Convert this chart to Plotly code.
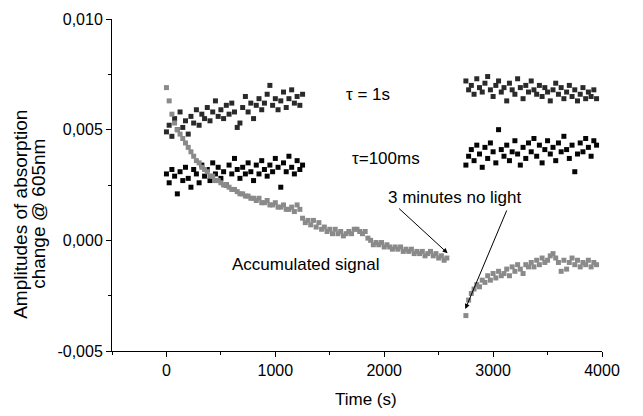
import plotly.graph_objects as go

# ---------------- data ----------------
t_tau_1 = [0, 25, 50, 75, 100, 125, 150, 175, 200, 225, 250, 275, 300, 325, 350, 375, 400, 425, 450, 475,
           500, 525, 550, 575, 600, 625, 650, 675, 700, 725, 750, 775, 800, 825, 850, 875, 900, 925, 950, 975,
           1000, 1025, 1050, 1075, 1100, 1125, 1150, 1175, 1200, 1225, 1250]

tau1s_seg1 = [0.0049, 0.0052, 0.0047, 0.0055, 0.0050, 0.0058, 0.0051, 0.0054, 0.0048, 0.0056,
              0.0053, 0.0059, 0.0052, 0.0057, 0.0055, 0.0060, 0.0054, 0.0058, 0.0063, 0.0056,
              0.0059, 0.0055, 0.0061, 0.0057, 0.0062, 0.0058, 0.0051, 0.0053, 0.0060, 0.0065,
              0.0058, 0.0062, 0.0055, 0.0061, 0.0064, 0.0059, 0.0062, 0.0066, 0.0070, 0.0061,
              0.0064, 0.0059, 0.0063, 0.0067, 0.0060, 0.0064, 0.0068, 0.0062, 0.0065, 0.0061, 0.0066]

tau100_seg1 = [0.0030, 0.0026, 0.0032, 0.0029, 0.0021, 0.0031, 0.0027, 0.0033, 0.0028, 0.0024,
               0.0032, 0.0030, 0.0026, 0.0034, 0.0029, 0.0032, 0.0027, 0.0035, 0.0030, 0.0033,
               0.0028, 0.0031, 0.0025, 0.0034, 0.0030, 0.0037, 0.0032, 0.0028, 0.0033, 0.0030,
               0.0035, 0.0031, 0.0027, 0.0034, 0.0030, 0.0036, 0.0032, 0.0029, 0.0034, 0.0031,
               0.0037, 0.0033, 0.0024, 0.0035, 0.0031, 0.0038, 0.0033, 0.0030, 0.0036, 0.0032, 0.0034]

t_acc_1 = [0, 25, 50, 75, 100, 125, 150, 175, 200, 225, 250, 275, 300, 325, 350, 375, 400, 425, 450, 475,
           500, 525, 550, 575, 600, 625, 650, 675, 700, 725, 750, 775, 800, 825, 850, 875, 900, 925, 950, 975,
           1000, 1025, 1050, 1075, 1100, 1125, 1150, 1175, 1200, 1225, 1250, 1275, 1300, 1325, 1350, 1375,
           1400, 1425, 1450, 1475, 1500, 1525, 1550, 1575, 1600, 1625, 1650, 1675, 1700, 1725, 1750, 1775,
           1800, 1825, 1850, 1875, 1900, 1925, 1950, 1975, 2000, 2025, 2050, 2075, 2100, 2125, 2150, 2175,
           2200, 2225, 2250, 2275, 2300, 2325, 2350, 2375, 2400, 2425, 2450, 2475, 2500, 2525, 2550, 2575]

acc_seg1 = [0.0069, 0.0063, 0.0057, 0.0053, 0.0050, 0.0048, 0.0046, 0.0044, 0.0042, 0.0040,
            0.0038, 0.0036, 0.0035, 0.0033, 0.0032, 0.0031, 0.0029, 0.0029, 0.0027, 0.0027,
            0.0026, 0.0025, 0.0025, 0.0024, 0.0023, 0.0023, 0.0022, 0.0021, 0.0021, 0.0020,
            0.0020, 0.0019, 0.0019, 0.0018, 0.0019, 0.0017, 0.0017, 0.0018, 0.0016, 0.0016,
            0.0017, 0.0015, 0.0015, 0.0016, 0.0014, 0.0014, 0.0015, 0.0013, 0.0016, 0.0014,
            0.0010, 0.0008, 0.0009, 0.0007, 0.0009, 0.0006, 0.0008, 0.0005, 0.0006, 0.0004,
            0.0005, 0.0003, 0.0005, 0.0003, 0.0004, 0.0002, 0.0003, 0.0004, 0.0003, 0.0005,
            0.0005, 0.0004, 0.0003, 0.0004, 0.0001, 0.0000, -0.0002, -0.0001, -0.0002, -0.0001,
            -0.0003, -0.0002, -0.0003, -0.0004, -0.0003, -0.0004, -0.0003, -0.0005, -0.0004, -0.0005,
            -0.0004, -0.0006, -0.0005, -0.0006, -0.0005, -0.0007, -0.0006, -0.0005, -0.0007, -0.0006,
            -0.0008, -0.0007, -0.0009, -0.0008]

t_seg2 = [2750, 2775, 2800, 2825, 2850, 2875, 2900, 2925, 2950, 2975, 3000, 3025, 3050, 3075, 3100, 3125,
          3150, 3175, 3200, 3225, 3250, 3275, 3300, 3325, 3350, 3375, 3400, 3425, 3450, 3475, 3500, 3525,
          3550, 3575, 3600, 3625, 3650, 3675, 3700, 3725, 3750, 3775, 3800, 3825, 3850, 3875, 3900, 3925, 3950]

tau1s_seg2 = [0.0072, 0.0068, 0.0070, 0.0066, 0.0073, 0.0069, 0.0067, 0.0071, 0.0074, 0.0068,
              0.0065, 0.0070, 0.0072, 0.0067, 0.0069, 0.0063, 0.0071, 0.0068, 0.0066, 0.0073,
              0.0069, 0.0064, 0.0070, 0.0067, 0.0072, 0.0068, 0.0066, 0.0070, 0.0065, 0.0069,
              0.0067, 0.0063, 0.0068, 0.0071, 0.0066, 0.0069, 0.0064, 0.0067, 0.0070, 0.0065,
              0.0068, 0.0063, 0.0066, 0.0069, 0.0064, 0.0067, 0.0065, 0.0068, 0.0064]

tau100_seg2 = [0.0034, 0.0038, 0.0041, 0.0036, 0.0043, 0.0039, 0.0033, 0.0042, 0.0037, 0.0044,
               0.0040, 0.0035, 0.0050, 0.0041, 0.0038, 0.0043, 0.0036, 0.0040, 0.0045, 0.0039,
               0.0034, 0.0042, 0.0037, 0.0044, 0.0040, 0.0046, 0.0038, 0.0043, 0.0035, 0.0041,
               0.0045, 0.0039, 0.0042, 0.0036, 0.0044, 0.0040, 0.0047, 0.0041, 0.0037, 0.0043,
               0.0031, 0.0039, 0.0044, 0.0040, 0.0046, 0.0042, 0.0038, 0.0045, 0.0043]

acc_seg2 = [-0.0034, -0.0027, -0.0024, -0.0022, -0.0020, -0.0021, -0.0018, -0.0019, -0.0016, -0.0018,
            -0.0015, -0.0017, -0.0014, -0.0016, -0.0015, -0.0013, -0.0016, -0.0012, -0.0014, -0.0011,
            -0.0013, -0.0015, -0.0011, -0.0012, -0.0010, -0.0012, -0.0009, -0.0011, -0.0008, -0.0010,
            -0.0009, -0.0007, -0.0006, -0.0008, -0.0010, -0.0014, -0.0009, -0.0013, -0.0010, -0.0008,
            -0.0011, -0.0009, -0.0012, -0.0010, -0.0011, -0.0009, -0.0012, -0.0010, -0.0011]

x_tickvals = [0, 1000, 2000, 3000, 4000]
x_ticktext = ["0", "1000", "2000", "3000", "4000"]
y_tickvals = [-0.005, 0.0, 0.005, 0.010]
y_ticktext = ["-0,005", "0,000", "0,005", "0,010"]

# ---------------- figure ----------------
FONT = "Liberation Sans, Arial, sans-serif"
fig = go.Figure()

def add(xs, ys, color):
    fig.add_trace(go.Scatter(x=xs, y=ys, mode="markers",
                             marker=dict(symbol="square", size=5, color=color, line=dict(width=0)),
                             showlegend=False, hoverinfo="skip", cliponaxis=False))

add(t_tau_1, tau1s_seg1, "#2a2a2a")
add(t_seg2, tau1s_seg2, "#2a2a2a")
add(t_tau_1, tau100_seg1, "#050505")
add(t_seg2, tau100_seg2, "#050505")
add(t_acc_1, acc_seg1, "#8a8a8a")
add(t_seg2, acc_seg2, "#8a8a8a")

axis_common = dict(showline=True, linecolor="black", linewidth=1, ticks="outside", ticklen=5,
                   tickcolor="black", showgrid=False, zeroline=False, mirror=False, automargin=False,
                   tickfont=dict(family=FONT, size=16, color="black"))

fig.update_xaxes(range=[-500, 4000], tickvals=x_tickvals, ticktext=x_ticktext,
                 minor=dict(ticks="outside", tickvals=[-500, 500, 1500, 2500, 3500], ticklen=3,
                            tickcolor="black"),
                 **axis_common)
fig.update_yaxes(range=[-0.005, 0.010], tickvals=y_tickvals, ticktext=y_ticktext,
                 minor=dict(ticks="outside", tickvals=[-0.0025, 0.0025, 0.0075], ticklen=3,
                            tickcolor="black"),
                 **axis_common)

# axis titles
fig.add_annotation(xref="paper", yref="paper", x=0.519, y=-0.147, text="Time (s)", showarrow=False,
                   font=dict(family=FONT, size=17, color="black"), xanchor="center", yanchor="middle")
fig.add_annotation(xref="paper", yref="paper", x=(21 - 112) / 489.7, y=0.413,
                   text="Amplitudes of absorption", textangle=-90, showarrow=False,
                   font=dict(family=FONT, size=19, color="black"), xanchor="center", yanchor="middle")
fig.add_annotation(xref="paper", yref="paper", x=(39 - 112) / 489.7, y=0.413,
                   text="change @ 605nm", textangle=-90, showarrow=False,
                   font=dict(family=FONT, size=19, color="black"), xanchor="center", yanchor="middle")

txt = dict(family=FONT, size=17, color="black")
fig.add_annotation(x=1853, y=0.00658, text="τ = 1s", showarrow=False, font=txt)
fig.add_annotation(x=2020, y=0.00369, text="τ=100ms", showarrow=False, font=txt)
fig.add_annotation(x=2652, y=0.00195, text="3 minutes no light", showarrow=False, font=txt)
fig.add_annotation(x=1281, y=-0.00108, text="Accumulated signal", showarrow=False, font=txt)
fig.add_annotation(x=2582, y=-0.00058, ax=-50, ay=-46, text="", showarrow=True,
                   arrowhead=2, arrowsize=1, arrowwidth=1, arrowcolor="black")
fig.add_annotation(x=2745, y=-0.0031, ax=42, ay=-100, text="", showarrow=True,
                   arrowhead=2, arrowsize=1, arrowwidth=1, arrowcolor="black")

# the page body adds an 8px offset; margins compensate so the plot area lands where the reference has it
fig.update_layout(width=643, height=416, margin=dict(l=104, r=49, t=11, b=73, autoexpand=False),
                  plot_bgcolor="white", paper_bgcolor="white",
                  font=dict(family=FONT, size=16, color="black"))

fig.write_html("out.html")
